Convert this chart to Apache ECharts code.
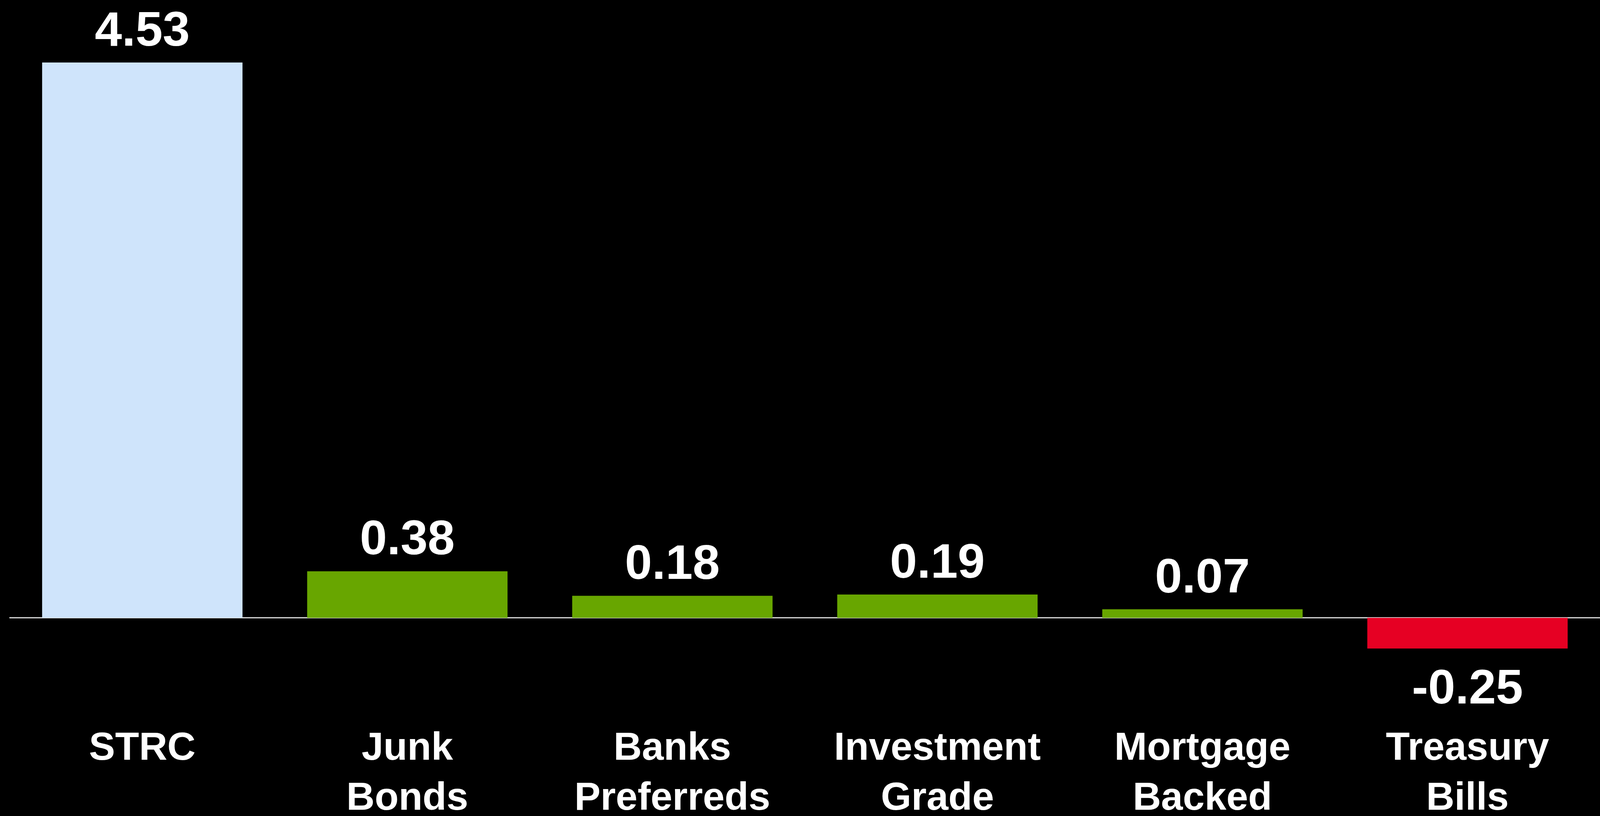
<!DOCTYPE html>
<html>
<head>
<meta charset="utf-8">
<script src="https://cdn.jsdelivr.net/npm/echarts@6/dist/echarts.min.js"></script>
<style>
html,body{margin:0;padding:0;background:#000;overflow:hidden;}
#chart{width:100vw;height:100vh;}
</style>
</head>
<body>
<div id="chart"></div>
<script>
const categories = ['STRC', 'Junk\nBonds', 'Banks\nPreferreds', 'Investment\nGrade', 'Mortgage\nBacked', 'Treasury\nBills'];
const values = [4.53, 0.38, 0.18, 0.19, 0.07, -0.25];
const barColors = ['#CFE4FB', '#68A600', '#68A600', '#68A600', '#68A600', '#E60023'];

const FONT = '"Liberation Sans", Arial, sans-serif';
const el = document.getElementById('chart');
const chart = echarts.init(el, null, {renderer: 'canvas'});
const W = chart.getWidth(), H = chart.getHeight();
const sx = W / 4576, sy = H / 2089, s = Math.sqrt(sx * sy);

const data = values.map((v, i) => ({
  value: v,
  itemStyle: {color: barColors[i]},
  label: v < 0 ? {position: 'bottom', distance: 44 * sy} : {position: 'top', distance: 15 * sy}
}));

chart.setOption({
  backgroundColor: '#000000',
  animation: false,
  grid: {left: 28 * sx, right: 0, top: 160 * sy, bottom: 319 * sy, containLabel: false, outerBoundsMode: 'none'},
  xAxis: {
    type: 'category',
    data: categories,
    axisLine: {show: true, onZero: true, lineStyle: {color: '#d9d9d9', width: 3 * s}},
    axisTick: {show: false},
    axisLabel: {
      color: '#ffffff',
      fontFamily: FONT,
      fontWeight: 'bold',
      fontSize: 106 * s,
      lineHeight: 128 * sy,
      margin: 83 * sy,
      interval: 0
    },
    splitLine: {show: false}
  },
  yAxis: {
    type: 'value',
    min: -0.6,
    max: 4.53,
    show: false,
    splitLine: {show: false}
  },
  series: [{
    type: 'bar',
    data: data,
    barCategoryGap: '24.4%',
    label: {
      show: true,
      color: '#ffffff',
      fontFamily: FONT,
      fontWeight: 'bold',
      fontSize: 132 * s,
      formatter: p => p.value.toFixed(2)
    }
  }]
});
</script>
</body>
</html>
